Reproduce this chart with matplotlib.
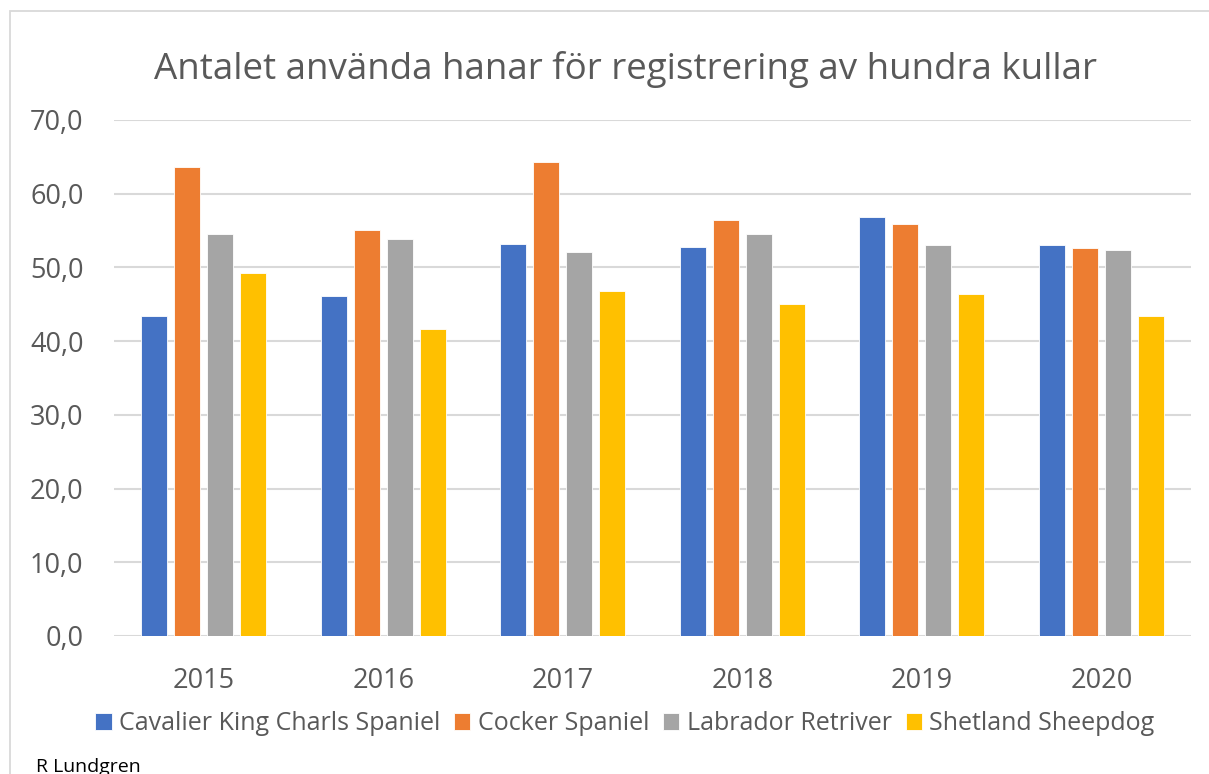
import matplotlib
matplotlib.use('Agg')
import matplotlib.pyplot as plt
import matplotlib.patches as mpatches
import numpy as np

# Data
years = ['2015', '2016', '2017', '2018', '2019', '2020']
cavalier = [43.4, 46.1, 53.2, 52.8, 56.8, 53.0]
cocker = [63.6, 55.1, 64.3, 56.4, 55.9, 52.7]
labrador = [54.5, 53.9, 52.1, 54.5, 53.0, 52.3]
sheltie = [49.3, 41.6, 46.8, 45.0, 46.4, 43.4]

names = ['Cavalier King Charls Spaniel', 'Cocker Spaniel', 'Labrador Retriver', 'Shetland Sheepdog']
colors = ['#4472C4', '#ED7D31', '#A5A5A5', '#FFC000']
series = [cavalier, cocker, labrador, sheltie]

plt.rcParams['font.family'] = ['Open Sans', 'DejaVu Sans']
txt = '#595959'

W, H = 1209, 774
fig = plt.figure(figsize=(W / 100, H / 100), dpi=100)
ax = fig.add_axes([114 / W, 1 - 636 / H, (1191 - 114) / W, (636 - 120) / H])

# chart border
fig.patches.append(mpatches.Rectangle((10 / W, -0.1), 1.2, 1 - 11 / H + 0.1,
                                      transform=fig.transFigure, fill=False,
                                      edgecolor='#D9D9D9', linewidth=1.3))

x = np.arange(len(years))
bw = 0.143
step = 0.184
for i, (vals, c, n) in enumerate(zip(series, colors, names)):
    off = (i - 1.5) * step
    ax.bar(x + off, vals, bw, color=c, label=n, edgecolor='white', linewidth=0.6, zorder=3)

ax.set_xlim(-0.5, len(years) - 0.5)
ax.set_ylim(0, 70)
ax.set_yticks(np.arange(0, 71, 10))
ax.set_yticklabels([f'{v:.1f}'.replace('.', ',') for v in np.arange(0, 71, 10)])
ax.set_xticks(x)
ax.set_xticklabels(years)
ax.grid(axis='y', color='#D9D9D9', linewidth=1.5, zorder=0)
for s in ax.spines.values():
    s.set_visible(False)
ax.tick_params(axis='both', length=0, labelsize=19.5, colors=txt)
ax.tick_params(axis='y', pad=22)
ax.tick_params(axis='x', pad=22)

fig.text(0.517, 1 - 70 / H, 'Antalet använda hanar för registrering av hundra kullar',
         ha='center', va='center', fontsize=26.5, color=txt)

ax.legend(loc='center', bbox_to_anchor=(625 / W, 1 - 724 / H), bbox_transform=fig.transFigure,
          ncol=4, frameon=False, fontsize=18, labelcolor=txt, handlelength=0.65,
          handleheight=0.65, handletextpad=0.3, columnspacing=0.55)

fig.text(36 / W, 1 - 767 / H, 'R Lundgren', ha='left', va='center', fontsize=14, color='black')

fig.savefig('out.png', dpi=100)
